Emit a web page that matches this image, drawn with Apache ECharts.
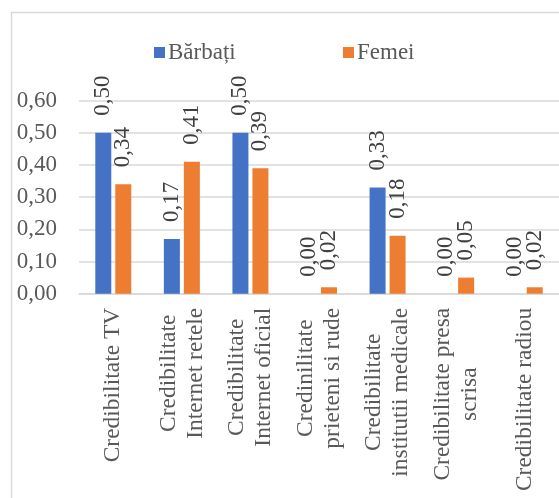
<!DOCTYPE html>
<html>
<head>
<meta charset="utf-8">
<script src="https://cdn.jsdelivr.net/npm/echarts@6/dist/echarts.min.js"></script>
<style>
  html, body { margin: 0; padding: 0; background: #ffffff; }
  #chart { width: 559px; height: 498px; }
</style>
</head>
<body>
<div id="chart"></div>
<script>
// Surse de informare și credibilitatea lor, pe sexe
const categories = [
  'Credibilitate TV',
  'Credibilitate\nInternet retele',
  'Credibilitate\nInternet oficial',
  'Credinilitate\nprieteni si rude',
  'Credibilitate\ninstitutii medicale',
  'Credibilitate presa\nscrisa',
  'Credibilitate radiou'
];
const barbati = [0.50, 0.17, 0.50, 0.00, 0.33, 0.00, 0.00];
const femei   = [0.34, 0.41, 0.39, 0.02, 0.18, 0.05, 0.02];
const yTicks = { min: 0, max: 0.6, step: 0.1 };

const FONT = '"Liberation Serif", "Times New Roman", serif';
const GREY = '#595959';
const DARK = '#404040';
const fmt = v => Number(v).toFixed(2).replace('.', ',');

const barLabel = {
  show: true,
  position: 'top',
  distance: 17,
  rotate: 90,
  align: 'left',
  verticalAlign: 'middle',
  fontFamily: FONT,
  fontSize: 23,
  color: DARK,
  formatter: p => fmt(p.value)
};

const chart = echarts.init(document.getElementById('chart'), null, { renderer: 'canvas' });
chart.setOption({
  animation: false,
  backgroundColor: '#ffffff',
  graphic: [{
    type: 'rect',
    shape: { x: 11.5, y: 12.5, width: 700, height: 700 },
    style: { fill: 'none', stroke: '#d9d9d9', lineWidth: 1.5 },
    silent: true
  }],
  legend: [
    {
      data: ['Bărbați'],
      left: 149, top: 36,
      itemWidth: 11, itemHeight: 11,
      icon: 'rect',
      textStyle: { fontFamily: FONT, fontSize: 23, color: GREY, padding: [0, 0, 0, -2] }
    },
    {
      data: ['Femei'],
      left: 338, top: 36,
      itemWidth: 11, itemHeight: 11,
      icon: 'rect',
      textStyle: { fontFamily: FONT, fontSize: 23, color: GREY, padding: [0, 0, 0, -2] }
    }
  ],
  // the plot runs a little past the right edge of the canvas
  grid: { left: 79, width: 490, top: 100.7, height: 193, containLabel: false },
  xAxis: {
    type: 'category',
    data: categories,
    axisLine: { show: true, lineStyle: { color: '#d9d9d9', width: 1.5 } },
    axisTick: { show: false },
    axisLabel: {
      interval: 0,
      rotate: 90,
      margin: 14,
      formatter: v => v.split('\n').map(s => '{c|' + s + '}').join('\n'),
      rich: {
        c: { align: 'center', fontFamily: FONT, fontSize: 23.5, lineHeight: 27, color: GREY }
      }
    }
  },
  yAxis: {
    type: 'value',
    min: yTicks.min,
    max: yTicks.max,
    interval: yTicks.step,
    axisLine: { show: false },
    axisTick: { show: false },
    splitLine: { lineStyle: { color: '#d9d9d9', width: 1.5 } },
    axisLabel: {
      margin: 22,
      fontFamily: FONT,
      fontSize: 23,
      color: GREY,
      formatter: v => fmt(v)
    }
  },
  series: [
    {
      name: 'Bărbați',
      type: 'bar',
      data: barbati,
      barWidth: 16,
      barGap: '25%',
      itemStyle: { color: '#4472C4' },
      label: barLabel
    },
    {
      name: 'Femei',
      type: 'bar',
      data: femei,
      barWidth: 16,
      itemStyle: { color: '#ED7D31' },
      label: barLabel
    }
  ]
});
</script>
</body>
</html>
